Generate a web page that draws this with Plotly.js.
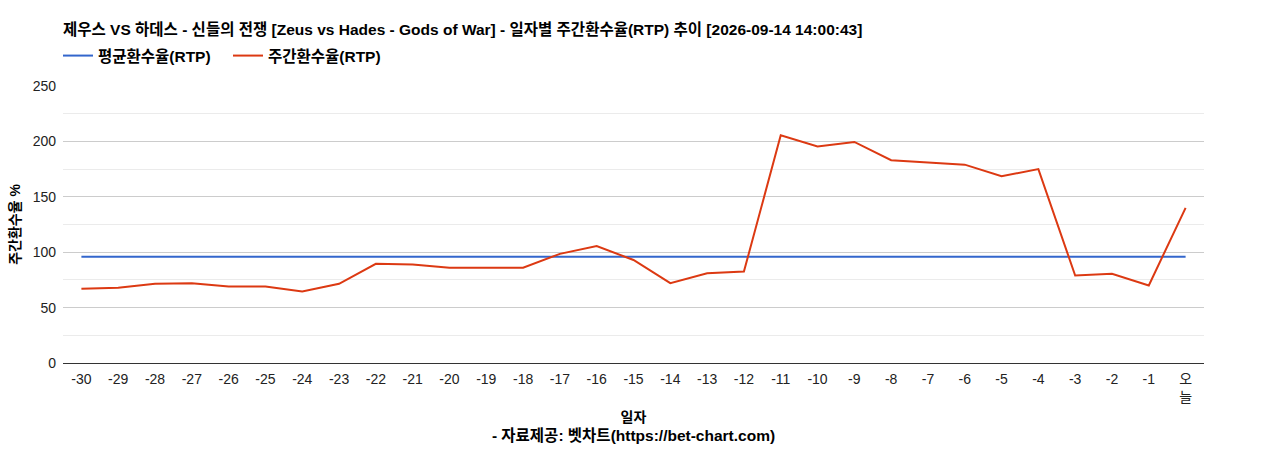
<!DOCTYPE html>
<html>
<head>
<meta charset="utf-8">
<script src="https://cdn.plot.ly/plotly-3.0.1.min.js"></script>
<style>
  body { margin: 0; background: #fff; }
  #chart { width: 1268px; height: 450px; }
</style>
</head>
<body>
<div id="chart"></div>
<script>
// 일자 (마지막은 오늘)
var days = ['-30','-29','-28','-27','-26','-25','-24','-23','-22','-21','-20','-19','-18','-17','-16',
            '-15','-14','-13','-12','-11','-10','-9','-8','-7','-6','-5','-4','-3','-2','-1','오<br>늘'];

// 주간환수율(RTP)
var weeklyRtp = [67, 68, 71.5, 72, 69, 69, 64.5, 71.5, 89.5, 89, 86, 86, 86, 98.5, 105.5,
                 93, 72, 81, 82.5, 205.5, 195.5, 199.5, 183, 181, 179, 168.5, 175, 79, 80.5, 70, 140];

// 평균환수율(RTP)
var avgRtp = 96;

var avgLine = days.map(function () { return avgRtp; });

var fontFam = 'Arial, "Liberation Sans", "Noto Sans CJK KR", sans-serif';

var data = [
  {
    x: days, y: avgLine, type: 'scatter', mode: 'lines',
    name: '<b>평균환수율(RTP)</b>',
    line: { color: '#3366cc', width: 2 },
    hoverinfo: 'skip'
  },
  {
    x: days, y: weeklyRtp, type: 'scatter', mode: 'lines',
    name: '<b>주간환수율(RTP)</b>',
    line: { color: '#dc3912', width: 2 }
  }
];

var layout = {
  width: 1268, height: 450,
  margin: { l: 63, r: 64, t: 86, b: 87 },
  paper_bgcolor: '#fff', plot_bgcolor: '#fff',
  font: { family: fontFam, size: 14, color: '#222' },
  title: {
    text: '<b>제우스 VS 하데스 - 신들의 전쟁 [Zeus vs Hades - Gods of War] - 일자별 주간환수율(RTP) 추이 [2026-09-14 14:00:43]</b>',
    font: { family: fontFam, size: 15.5, color: '#000' },
    xref: 'paper', x: 0, xanchor: 'left',
    yref: 'container', y: 1 - 30 / 450, yanchor: 'middle'
  },
  showlegend: true,
  legend: {
    orientation: 'h',
    x: -5 / 1141, xanchor: 'left',
    y: 1 + 47 / 277, yanchor: 'top',
    font: { family: fontFam, size: 15.5, color: '#000' },
    itemwidth: 30,
    entrywidth: 125,
    traceorder: 'normal'
  },
  xaxis: {
    type: 'category',
    range: [-0.5, days.length - 0.5],
    tickfont: { family: fontFam, size: 14, color: '#222' },
    showgrid: false,
    showline: true, linecolor: '#333', linewidth: 1,
    ticks: '',
    ticklabelstandoff: 3,
    title: {
      text: '<b>일자</b><br><b><span style="font-size:15.5px">- 자료제공: 벳차트(https://bet-chart.com)</span></b>',
      font: { family: fontFam, size: 14, color: '#000' },
      standoff: 8
    }
  },
  yaxis: {
    range: [0, 250],
    dtick: 50,
    tickfont: { family: fontFam, size: 14, color: '#222' },
    gridcolor: '#cccccc',
    zeroline: false,
    ticks: '',
    ticklabelstandoff: 6,
    minor: { dtick: 25, showgrid: true, gridcolor: '#ebebeb' },
    title: {
      text: '<b>주간환수율 %</b>',
      font: { family: fontFam, size: 14, color: '#000' },
      standoff: 8
    }
  }
};

Plotly.newPlot('chart', data, layout, { displayModeBar: false, responsive: false });
</script>
</body>
</html>
